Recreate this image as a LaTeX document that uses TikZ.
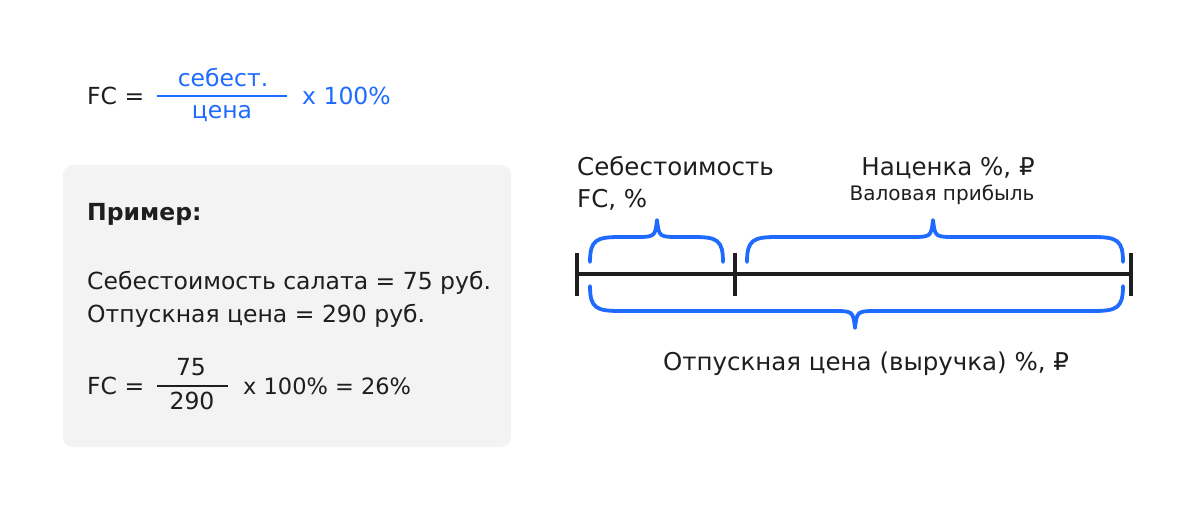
\documentclass[tikz,border=0pt]{standalone}
\usepackage{fontspec}
\setmainfont{DejaVu Sans}
\usepackage{xcolor}
\usepackage{tikz}
\usetikzlibrary{calc,positioning}
\definecolor{fcblue}{HTML}{1F6BFF}
\definecolor{boxgray}{HTML}{F3F3F3}
\definecolor{ink}{HTML}{1E1E1E}

\begin{document}
\begin{tikzpicture}[x=1pt,y=-1pt,
  txt/.style={inner sep=0pt,text=ink,font=\fontsize{23.5}{28}\selectfont},
  big/.style={inner sep=0pt,text=ink,font=\fontsize{24.5}{29}\selectfont},
  small/.style={inner sep=0pt,text=ink,font=\fontsize{20}{24}\selectfont},
  bluetxt/.style={txt,text=fcblue},
  brace/.style={draw=fcblue,line width=3.8pt,line cap=round,line join=round},
  bar/.style={draw=ink,line width=3.3pt}]
\useasboundingbox (0,0) rectangle (1200,511);

% formula on top
\node[txt,anchor=base west] (fc) at (87,105) {FC =};
\node[bluetxt,anchor=base] (cost) at (223,87) {себест.};
\node[bluetxt,anchor=base] (price) at (222,118) {цена};
\coordinate (f1) at (157,96);
\coordinate (f2) at (287,96);
\draw[fcblue,line width=1.6pt] (f1) -- (f2);
\node[bluetxt,anchor=base west] (pct) at (302,105) {x 100\%};

% example box
\fill[boxgray,rounded corners=10pt] (63,165) rectangle (511,447);
\node[txt,anchor=base west,font=\fontsize{23.5}{28}\selectfont\bfseries] (ex) at (87,220) {Пример:};
\node[txt,anchor=base west] (ex1) at (87,289) {Себестоимость салата = 75 руб.};
\node[txt,anchor=base west] (ex2) at (87,322) {Отпускная цена = 290 руб.};
\node[txt,anchor=base west] (fcb) at (87,394) {FC =};
\node[txt,anchor=base] (num) at (191,375) {75};
\node[txt,anchor=base] (den) at (192,409) {290};
\coordinate (g1) at (157,386);
\coordinate (g2) at (228,386);
\draw[ink,line width=1.2pt] (g1) -- (g2);
\node[txt,anchor=base west,font=\fontsize{22.5}{27}\selectfont] (res) at (243,394) {x 100\% = 26\%};

% scale with braces
\coordinate (a) at (577,274);
\coordinate (b) at (735,274);
\coordinate (c) at (1131,274);
\draw[bar] (a) -- (c);
\foreach \p in {a,b,c}
  \draw[bar] ($(\p)+(0,-21)$) -- ($(\p)+(0,22)$);

\draw[brace] (590,262) .. controls (590,240) and (596,237) .. (620,237) -- (634,237)
  .. controls (655,237) .. (657,220) .. controls (659,237) .. (680,237)
  -- (694,237) .. controls (717,237) and (723,240) .. (723,262);
\draw[brace] (747,262) .. controls (747,240) and (753,237) .. (777,237) -- (910,237)
  .. controls (931,237) .. (933,220) .. controls (935,237) .. (956,237)
  -- (1093,237) .. controls (1117,237) and (1123,240) .. (1123,262);
\draw[brace] (590,286) .. controls (590,308) and (596,311) .. (620,311) -- (832,311)
  .. controls (853,311) .. (855,328) .. controls (857,311) .. (878,311)
  -- (1093,311) .. controls (1117,311) and (1123,308) .. (1123,286);

\node[big,anchor=base west] (fcl) at (577,175) {Себестоимость};
\node[big,anchor=base west] (fcp) at (577,207) {FC, \%};
\node[big,anchor=base] (mark) at (948,175) {Наценка \%, ₽};
\node[small,anchor=base] (gross) at (942,200) {Валовая прибыль};
\node[big,anchor=base] (sale) at (866,370) {Отпускная цена (выручка) \%, ₽};
\end{tikzpicture}
\end{document}
